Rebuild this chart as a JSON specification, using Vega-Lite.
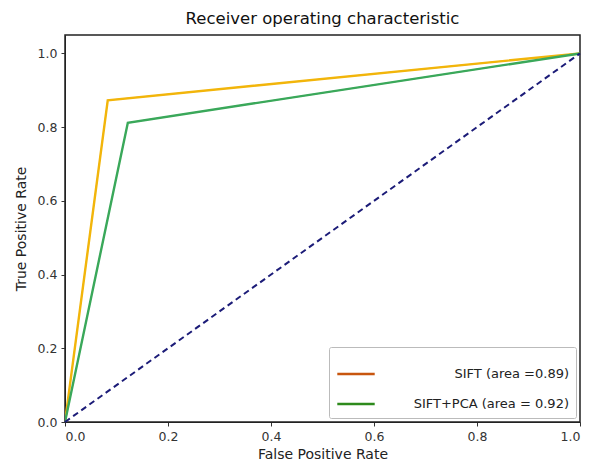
{
  "$schema": "https://vega.github.io/schema/vega-lite/v6.json",
  "width": 515,
  "height": 387,
  "autosize": {"type": "none"},
  "padding": {"left": 65, "top": 35, "right": 15, "bottom": 45},
  "background": "white",
  "config": {
    "font": "DejaVu Sans",
    "view": {"stroke": "#222222", "strokeWidth": 1.5},
    "axis": {"grid": false, "labelFont": "DejaVu Sans", "titleFont": "DejaVu Sans", "labelFontSize": 12.5, "titleFontSize": 14, "titleFontWeight": "normal", "labelColor": "#333333", "titleColor": "#222222", "tickColor": "#333333", "domainColor": "#222222", "tickSize": 4, "labelPadding": 4}
  },
  "title": {"text": "Receiver operating characteristic", "fontSize": 16.5, "fontWeight": "normal", "font": "DejaVu Sans", "color": "#111111", "offset": 8},
  "datasets": {
    "roc": [
      {"series": "SIFT (area =0.89)", "fpr": 0.0, "tpr": 0.0},
      {"series": "SIFT (area =0.89)", "fpr": 0.083, "tpr": 0.873},
      {"series": "SIFT (area =0.89)", "fpr": 1.0, "tpr": 1.0},
      {"series": "SIFT+PCA (area = 0.92)", "fpr": 0.0, "tpr": 0.0},
      {"series": "SIFT+PCA (area = 0.92)", "fpr": 0.122, "tpr": 0.812},
      {"series": "SIFT+PCA (area = 0.92)", "fpr": 1.0, "tpr": 1.0}
    ],
    "diag": [
      {"fpr": 0.0, "tpr": 0.0},
      {"fpr": 1.0, "tpr": 1.0}
    ]
  },
  "layer": [
    {
      "data": {"name": "roc"},
      "mark": {"type": "line", "strokeWidth": 0.8, "clip": true},
      "encoding": {
        "x": {"field": "fpr", "type": "quantitative", "scale": {"domain": [0, 1], "nice": false, "zero": false}, "axis": {"title": "False Positive Rate", "values": [0, 0.2, 0.4, 0.6, 0.8, 1.0], "format": ".1f", "titlePadding": 5}},
        "y": {"field": "tpr", "type": "quantitative", "scale": {"domain": [0, 1.05], "nice": false, "zero": false}, "axis": {"title": "True Positive Rate", "values": [0, 0.2, 0.4, 0.6, 0.8, 1.0], "format": ".1f", "titlePadding": 9}},
        "color": {"field": "series", "type": "nominal", "scale": {"domain": ["SIFT (area =0.89)", "SIFT+PCA (area = 0.92)"], "range": ["#c8560f", "#2e8a1c"]},
          "legend": {"title": null, "orient": "bottom-right", "offset": 4, "symbolType": "stroke", "symbolSize": 1400, "symbolStrokeWidth": 2.5, "labelFontSize": 13, "labelFont": "DejaVu Sans", "labelColor": "#222222", "strokeColor": "#bbbbbb", "fillColor": "white", "padding": 7, "cornerRadius": 2, "rowPadding": 3, "labelOffset": 193, "labelAlign": "right", "labelLimit": 300}}
      }
    },
    {
      "data": {"name": "roc"},
      "mark": {"type": "line", "strokeWidth": 2.4, "clip": true},
      "encoding": {
        "x": {"field": "fpr", "type": "quantitative"},
        "y": {"field": "tpr", "type": "quantitative"},
        "stroke": {"field": "series", "type": "nominal", "scale": {"domain": ["SIFT (area =0.89)", "SIFT+PCA (area = 0.92)"], "range": ["#f2b50a", "#3aa85a"]}, "legend": null}
      }
    },
    {
      "data": {"name": "diag"},
      "mark": {"type": "line", "strokeWidth": 2, "color": "#1c1c78", "strokeDash": [6, 4]},
      "encoding": {
        "x": {"field": "fpr", "type": "quantitative"},
        "y": {"field": "tpr", "type": "quantitative"}
      }
    }
  ]
}
